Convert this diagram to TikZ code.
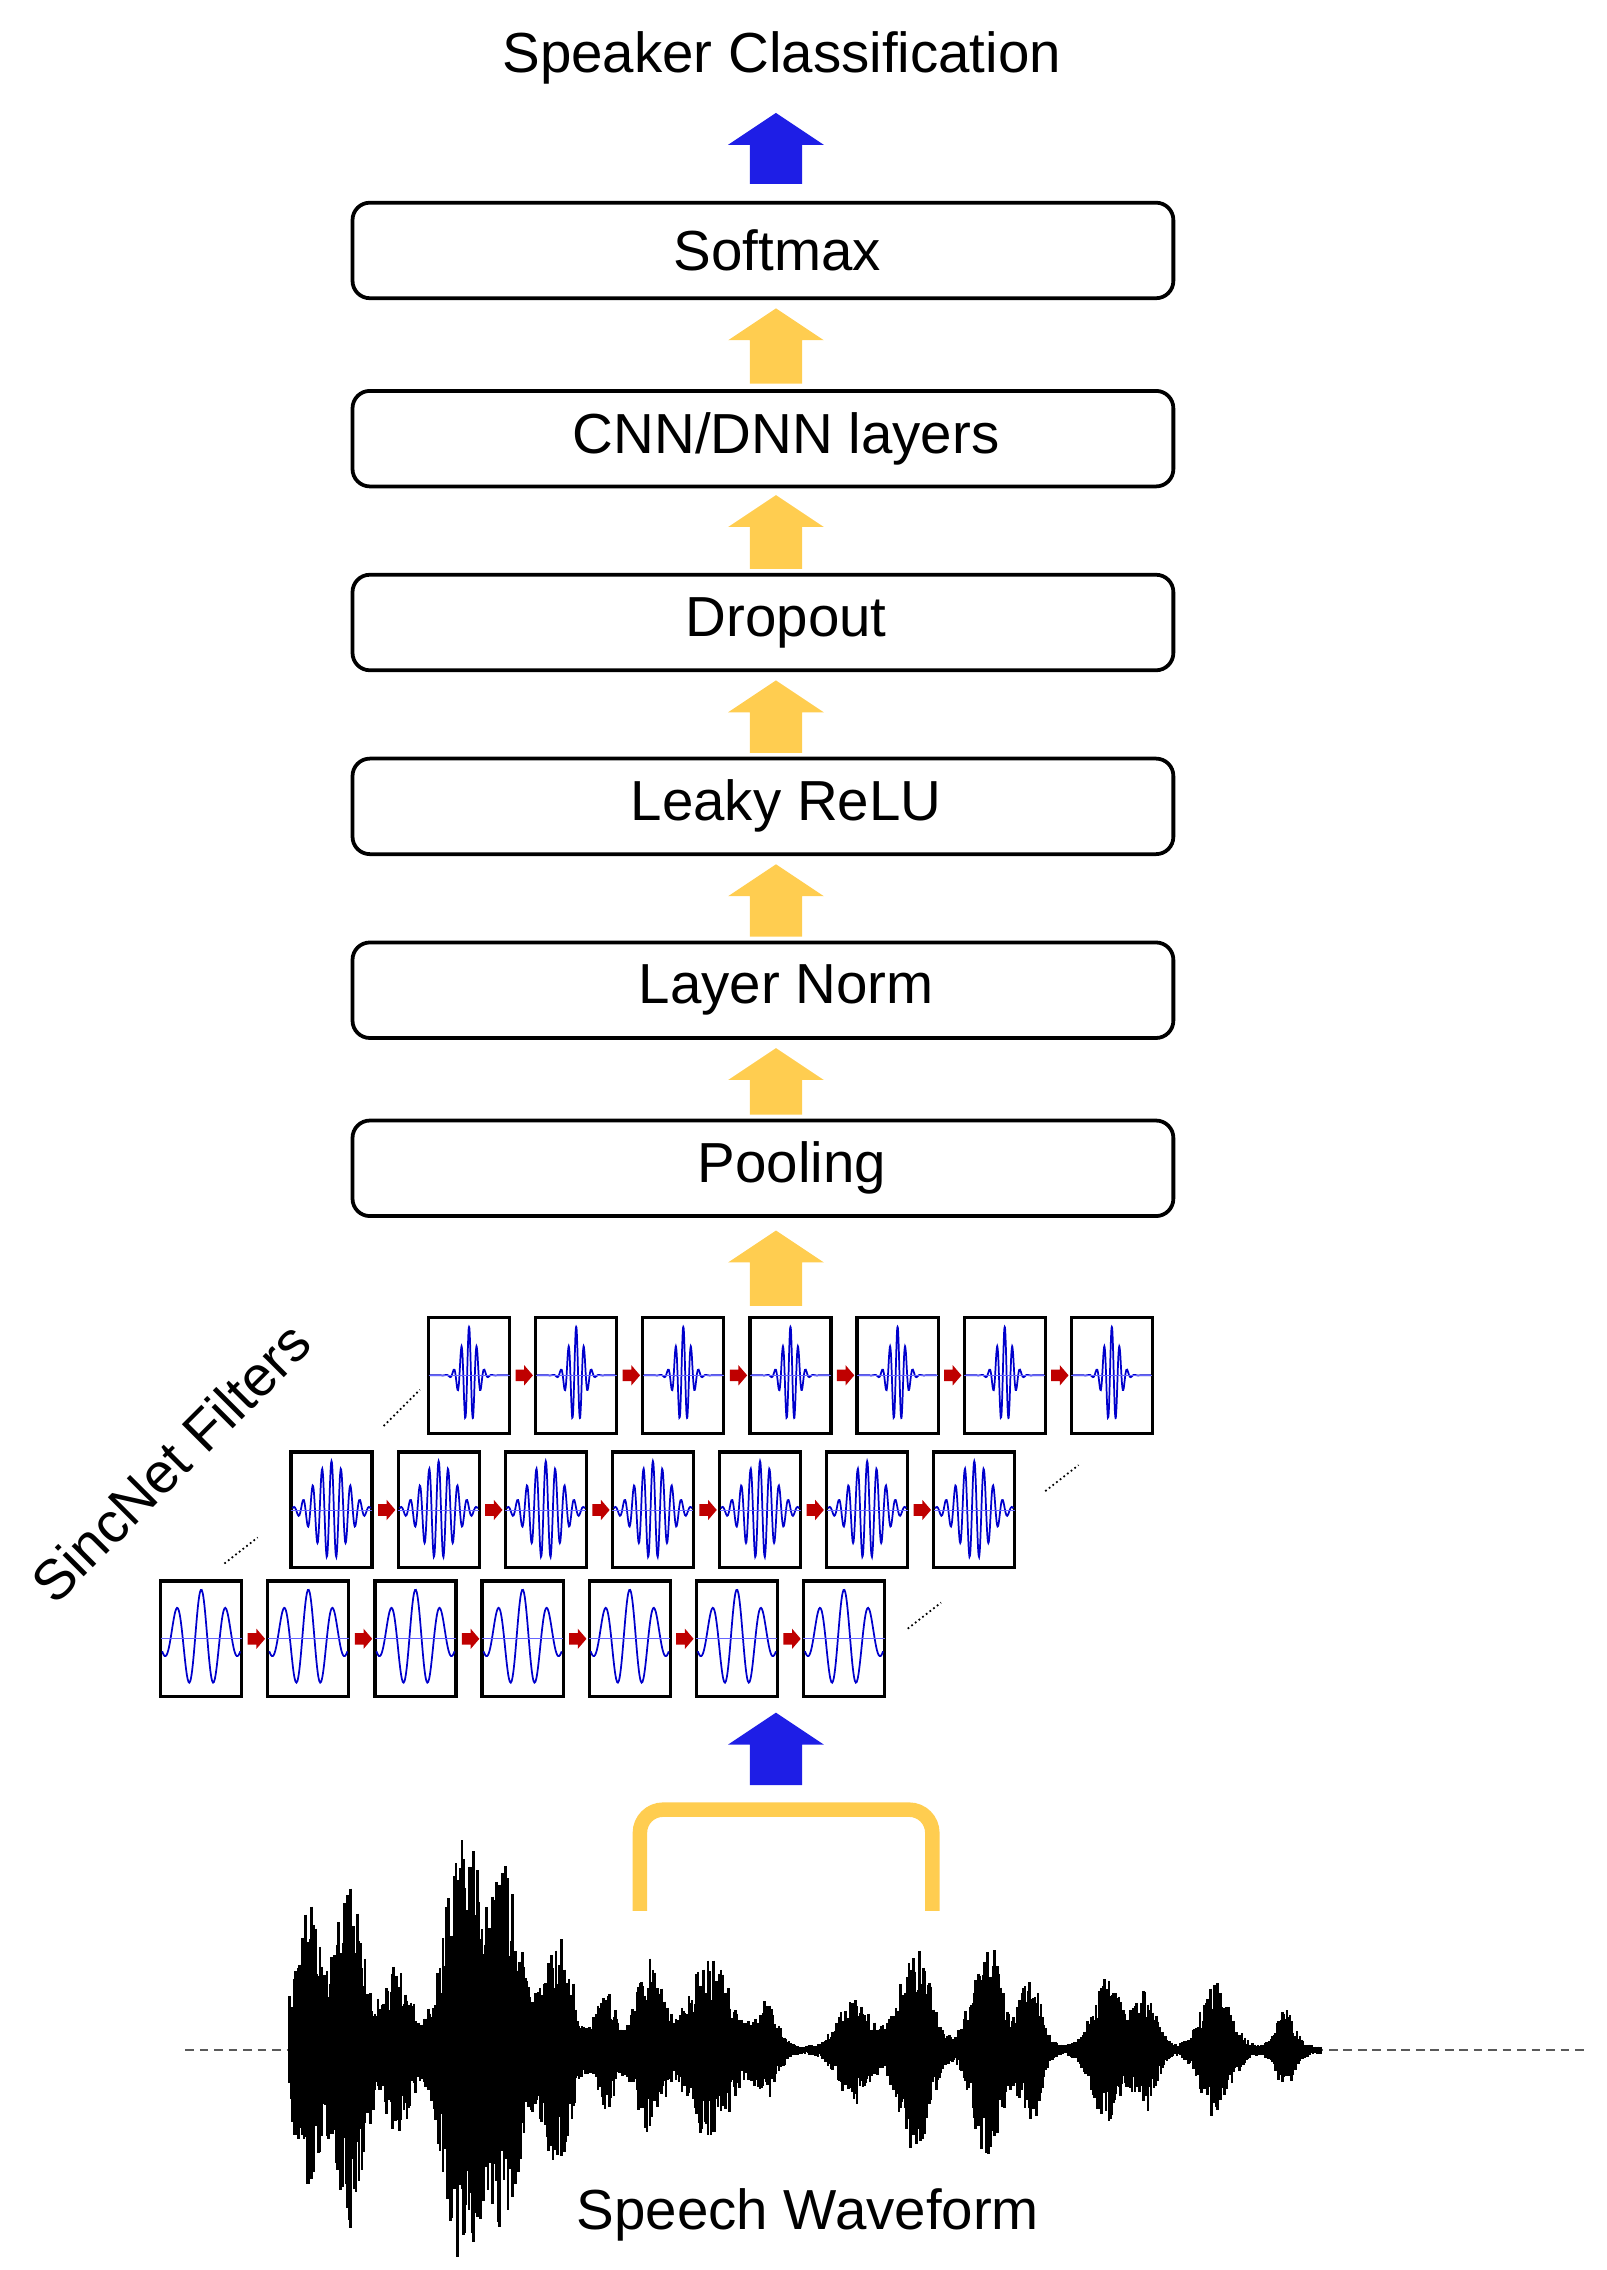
\documentclass[tikz,border=0pt]{standalone}
\usepackage{fontspec}
\setmainfont{Liberation Sans}
\usetikzlibrary{calc}
\begin{document}
\begin{tikzpicture}[x=0.5pt,y=-0.5pt,
  lay/.style={draw,line width=1.3pt,rounded corners=6pt,minimum width=283.5pt,minimum height=33pt,font=\fontsize{19.5}{23}\selectfont},
  fb/.style={draw,line width=1.1pt,minimum width=28pt,minimum height=40pt,inner sep=0pt},
  dots/.style={densely dotted,line width=0.6pt}]
\useasboundingbox (0,0) rectangle (1110,1568);
\def\fatarrow#1#2#3#4{\fill[#1] (#2-33,#3+22) -- (#2,#3) -- (#2+33,#3+22) -- (#2+18,#3+22) -- (#2+18,#4) -- (#2-18,#4) -- (#2-18,#3+22) -- cycle;}
\definecolor{ya}{RGB}{255,205,80}
\definecolor{ba}{RGB}{30,30,230}
\node[font=\fontsize{19.5}{23}\selectfont] (title) at (540,40) {Speaker Classification};
\fatarrow{ba}{536}{78}{127}
\node[lay] (soft) at (527,173) {\hspace*{10pt}Softmax};
\node[lay] (cnn) at (527,303) {\hspace*{16pt}CNN/DNN layers};
\node[lay] (drop) at (527,430) {\hspace*{16pt}Dropout};
\node[lay] (relu) at (527,557) {\hspace*{16pt}Leaky ReLU};
\node[lay] (norm) at (527,684) {\hspace*{16pt}Layer Norm};
\node[lay] (pool) at (527,807) {\hspace*{20pt}Pooling};
\fatarrow{ya}{536}{213}{265}
\fatarrow{ya}{536}{342}{393}
\fatarrow{ya}{536}{470}{520}
\fatarrow{ya}{536}{597}{647}
\fatarrow{ya}{536}{724}{770}
\fatarrow{ya}{536}{850}{902}
% filter rows
\foreach \r/\xo/\yo/\fr/\kk in {t/324/950/32/14, m/229/1043/26/3, b/139/1132/10/1.2}{
  \foreach \i in {0,...,6}{
    \pgfmathsetmacro\cx{\xo+74*\i}
    \node[fb] (f\r\i) at (\cx,\yo) {};
    \draw[blue!80!black,line width=0.6pt] plot[domain=-1:1,samples=90,smooth] ({\cx+27*\x},{\yo-34*cos(\fr*\x r)*exp(-\kk*\x*\x)});
    \draw[blue!60,line width=0.3pt] (\cx-28,\yo) -- (\cx+28,\yo);
  }
  \foreach \i in {0,...,5}{
    \fill[red!75!black] ($(f\r\i.east)+(3,-4)$) -- ++(6,0) -- ++(0,-3) -- ++(6,7) -- ++(-6,7) -- ++(0,-3) -- ++(-6,0) -- cycle;
  }
}
\draw[dots] (265,985) -- (290,960);
\draw[dots] (722,1030) -- (745,1012);
\draw[dots] (155,1080) -- (178,1062);
\draw[dots] (627,1125) -- (650,1107);
\node[rotate=45,font=\fontsize{19.5}{23}\selectfont] (sinc) at (118,1010) {SincNet Filters};
\fatarrow{ba}{536}{1183}{1233}
\draw[ya,line width=5pt,rounded corners=8pt] (442,1320) -- (442,1250) -- (644,1250) -- (644,1320);
% waveform
\draw[densely dashed,line width=0.5pt,gray!70!black] (128,1416) -- (1095,1416);
\pgfmathsetseed{7}
\foreach \x in {200,201,...,912}{
  \pgfmathsetmacro\e{100*exp(-((\x-212)/12)^2)+120*exp(-((\x-242)/14)^2)+60*exp(-((\x-275)/12)^2)+150*exp(-((\x-320)/18)^2)+115*exp(-((\x-350)/14)^2)+80*exp(-((\x-385)/14)^2)+40*exp(-((\x-418)/10)^2)+60*exp(-((\x-448)/12)^2)+60*exp(-((\x-490)/22)^2)+30*exp(-((\x-530)/10)^2)+35*exp(-((\x-590)/15)^2)+70*exp(-((\x-632)/15)^2)+75*exp(-((\x-682)/14)^2)+50*exp(-((\x-712)/10)^2)+50*exp(-((\x-765)/14)^2)+40*exp(-((\x-792)/10)^2)+45*exp(-((\x-840)/14)^2)+25*exp(-((\x-888)/9)^2)+3}
  \pgfmathsetmacro\a{\e*(0.5+0.5*rnd)}
  \pgfmathsetmacro\b{\e*(0.5+0.5*rnd)}
  \draw[line width=0.9pt] (\x,1416-\a) -- (\x,1416+\b);
}
\node[font=\fontsize{19.5}{23}\selectfont] (sw) at (558,1530) {Speech Waveform};
\end{tikzpicture}
\end{document}
